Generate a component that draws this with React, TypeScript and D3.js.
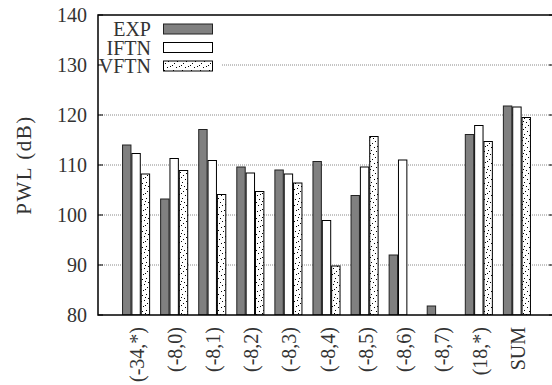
import React from "react";
import * as d3 from "d3";

const categories = ["(-34,*)", "(-8,0)", "(-8,1)", "(-8,2)", "(-8,3)", "(-8,4)", "(-8,5)", "(-8,6)", "(-8,7)", "(18,*)", "SUM"];
const seriesNames = ["EXP", "IFTN", "VFTN"];
const expValues = [114.0, 103.2, 117.1, 109.6, 109.0, 110.7, 103.9, 92.0, 81.8, 116.1, 121.8];
const iftnValues = [112.3, 111.3, 110.9, 108.4, 108.2, 98.9, 109.6, 111.0, null, 117.9, 121.6];
const vftnValues = [108.2, 108.9, 104.1, 104.7, 106.4, 89.8, 115.7, null, null, 114.7, 119.5];
const yTicks = [80, 90, 100, 110, 120, 130, 140];

const W = 552, H = 385;
const left = 98, right = 555, top = 15, bottom = 315;
const FONT = "'Liberation Serif', 'Times New Roman', serif";

export default function App() {
  const x = d3.scaleLinear().domain([-1, 11]).range([left, right]);
  const y = d3.scaleLinear().domain([80, 140]).range([bottom, top]);
  const sub = d3.scaleBand<string>().domain(seriesNames).range([-14, 14]).paddingInner(0.1).paddingOuter(0.05);
  const seriesValues = [expValues, iftnValues, vftnValues];
  const fills = ["#808080", "#ffffff", "url(#dots)"];
  const strokes = ["#222", "#000", "#000"];

  const dotPts: [number, number][] = [[1, 1], [5, 3], [2, 6], [7, 7], [4, 10], [0, 12], [6, 13], [3, 15], [8, 2], [1, 9]];

  return (
    <svg width={W} height={H} style={{ position: "absolute", left: 0, top: 0, background: "#fff" }}>
      <defs>
        <pattern id="dots" patternUnits="userSpaceOnUse" width={9} height={16}>
          <rect width={9} height={16} fill="#fff" />
          {dotPts.map((p, i) => (
            <rect key={i} x={p[0]} y={p[1]} width={1} height={1} fill="#000" />
          ))}
        </pattern>
        <clipPath id="plotclip">
          <rect x={left} y={top} width={right - left} height={bottom - top} />
        </clipPath>
      </defs>
      {yTicks.filter(t => t > 80 && t < 140).map(t => (
        <line key={t} x1={left} x2={right} y1={y(t)} y2={y(t)} stroke="#888" strokeWidth={1} strokeDasharray="1,1" />
      ))}
      <rect x={left + 1} y={top + 2} width={122} height={62} fill="#fff" />
      <g clipPath="url(#plotclip)">
        {seriesValues.map((vals, s) =>
          vals.map((v, i) => {
            if (v == null) return null;
            const bx = x(i) + (sub(seriesNames[s]) as number);
            return (
              <rect key={s + "-" + i} x={bx} y={y(v)} width={sub.bandwidth()} height={y(80) - y(v)}
                fill={fills[s]} stroke={strokes[s]} strokeWidth={1} />
            );
          })
        )}
      </g>
      {yTicks.map(t => (
        <g key={"t" + t}>
          <line x1={left} x2={left + 5} y1={y(t)} y2={y(t)} stroke="#000" strokeWidth={1} />
          <line x1={right - 6} x2={right} y1={y(t)} y2={y(t)} stroke="#000" strokeWidth={1} />
          <text x={left - 11} y={y(t)} dy="0.35em" textAnchor="end" fontFamily={FONT} fontSize={20} fill="#333">{t}</text>
        </g>
      ))}
      <rect x={left} y={top} width={right - left} height={bottom - top} fill="none" stroke="#000" strokeWidth={1.5} />
      {categories.map((c, i) => (
        <text key={c} transform={`translate(${x(i) + 1},${bottom + 12}) rotate(-90)`} textAnchor="end" dy="0.35em"
          fontFamily={FONT} fontSize={20} fill="#333">{c}</text>
      ))}
      <text transform={`translate(24,${(top + bottom) / 2}) rotate(-90)`} textAnchor="middle" dy="0.35em"
        fontFamily={FONT} fontSize={21} letterSpacing={1.5} fill="#333">PWL (dB)</text>
      {seriesNames.map((n, s) => {
        const cy = 29 + s * 18.5;
        return (
          <g key={n}>
            <text x={151} y={cy} dy="0.35em" textAnchor="end" fontFamily={FONT} fontSize={20} fill="#333">{n}</text>
            <rect x={163.5} y={cy - 5} width={49} height={10} fill={fills[s]} stroke={strokes[s]} strokeWidth={1} />
          </g>
        );
      })}
    </svg>
  );
}
